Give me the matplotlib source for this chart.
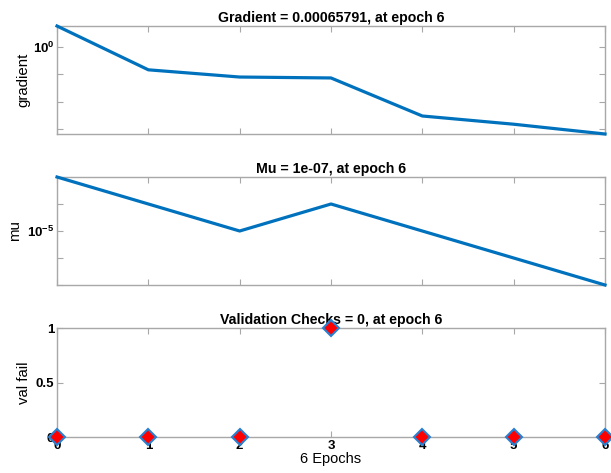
import matplotlib
matplotlib.use("Agg")
import matplotlib.pyplot as plt

epochs = [0, 1, 2, 3, 4, 5, 6]
gradient = [5.9, 0.147, 0.080, 0.074, 0.0030, 0.0015, 0.00065791]
mu = [1e-3, 1e-4, 1e-5, 1e-4, 1e-5, 1e-6, 1e-7]
val_fail = [0, 0, 0, 1, 0, 0, 0]

titles = ["Gradient = 0.00065791, at epoch 6",
          "Mu = 1e-07, at epoch 6",
          "Validation Checks = 0, at epoch 6"]
ylabels = ["gradient", "mu", "val fail"]
xlabel = "6 Epochs"

plt.rcParams['font.family'] = ['Liberation Sans', 'DejaVu Sans']
plt.rcParams['mathtext.fontset'] = 'custom'
plt.rcParams['mathtext.rm'] = 'Liberation Sans'
plt.rcParams['mathtext.bf'] = 'Liberation Sans:bold'

W, H = 611, 473
fig = plt.figure(figsize=(W / 100, H / 100), dpi=100)

blue = '#0072BD'
spine_col = '#a8a8a8'
left = 57 / W
width = (605 - 57) / W

def mk(top, bottom):
    return fig.add_axes([left, 1 - bottom / H, width, (bottom - top) / H])

ax1 = mk(26, 134)
ax2 = mk(177, 285)
ax3 = mk(328, 437)

for ax in (ax1, ax2, ax3):
    ax.set_xlim(0, 6)
    ax.set_xticks(epochs)
    for s in ax.spines.values():
        s.set_color(spine_col)
        s.set_linewidth(1.0)
    ax.tick_params(direction='in', top=True, right=True, color=spine_col,
                   length=4, width=0.8, labelsize=9.5, pad=2)
    ax.tick_params(which='minor', left=False, right=False)

# Gradient
ax1.semilogy(epochs, gradient, color=blue, lw=2.3, clip_on=False, zorder=3)
ax1.set_ylim(min(gradient), max(gradient))
ax1.set_yticks([1e-3, 1e-2, 1e-1, 1e0])
ax1.set_yticklabels(['', '', '', r'$\mathbf{10^{0}}$'])
ax1.minorticks_off()
ax1.set_xticklabels([])

# Mu
ax2.semilogy(epochs, mu, color=blue, lw=2.3, clip_on=False, zorder=3)
ax2.set_ylim(min(mu), max(mu))
ax2.set_yticks([1e-7, 1e-6, 1e-5, 1e-4, 1e-3])
ax2.set_yticklabels(['', '', r'$\mathbf{10^{-5}}$', '', ''])
ax2.minorticks_off()
ax2.set_xticklabels([])

# Validation
ax3.plot(epochs, val_fail, linestyle='none', marker='D', markersize=8,
         markerfacecolor='red', markeredgecolor='#2a7fd0', markeredgewidth=1.5,
         clip_on=False, zorder=4)
ax3.set_ylim(0, 1)
ax3.set_yticks([0, 0.5, 1])
ax3.set_yticklabels(['0', '0.5', '1'], fontweight='bold')
ax3.set_xticklabels([str(e) for e in epochs], fontweight='bold')
ax3.tick_params(axis='x', pad=2.5)
ax3.set_xlabel(xlabel, fontsize=10.5, labelpad=0)

for ax, t, yl in zip((ax1, ax2, ax3), titles, ylabels):
    ax.set_title(t, fontsize=10.2, fontweight='bold', pad=3)
    ax.set_ylabel(yl, fontsize=10.8, labelpad=4)

ax1.yaxis.set_label_coords(-0.049, 0.5)
ax2.yaxis.set_label_coords(-0.064, 0.5)
ax3.yaxis.set_label_coords(-0.047, 0.5)

fig.savefig("out.png", dpi=100)
